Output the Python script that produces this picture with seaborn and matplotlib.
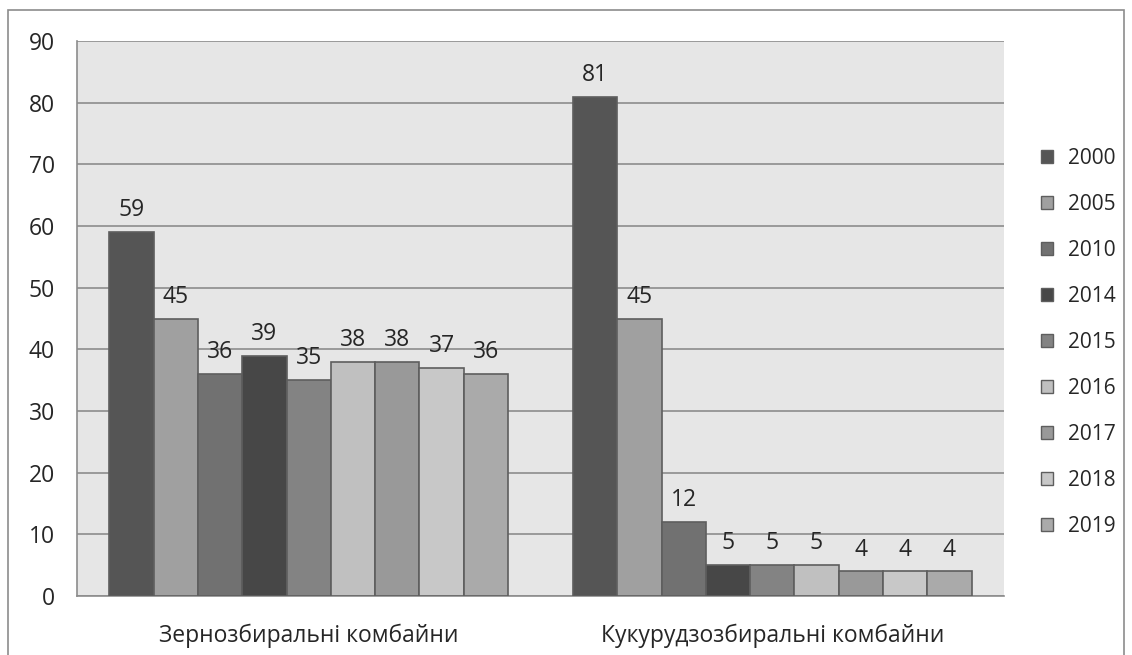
import pandas as pd
import matplotlib
matplotlib.use("Agg")
import matplotlib.pyplot as plt
import matplotlib.patches as mpatches
import seaborn as sns

categories = ["Зернозбиральні комбайни", "Кукурудзозбиральні комбайни"]
years = ["2000", "2005", "2010", "2014", "2015", "2016", "2017", "2018", "2019"]
grain = [59, 45, 36, 39, 35, 38, 38, 37, 36]
corn = [81, 45, 12, 5, 5, 5, 4, 4, 4]
colors = ["#555555", "#a0a0a0", "#717171", "#474747", "#838383",
          "#c0c0c0", "#999999", "#c8c8c8", "#aaaaaa"]

df = pd.DataFrame({
    "category": [categories[0]] * len(years) + [categories[1]] * len(years),
    "year": years * 2,
    "value": grain + corn,
})

sns.set_style("white")
plt.rcParams["font.family"] = ["Open Sans", "DejaVu Sans"]

fig = plt.figure(figsize=(11.32, 6.55), dpi=100)
ax = fig.add_axes([77 / 1132, 1 - 596 / 655, (1004 - 77) / 1132, (596 - 41) / 655])
ax.set_facecolor("#e6e6e6")

sns.barplot(data=df, x="category", y="value", hue="year", hue_order=years,
            palette=colors, width=0.86, gap=0, edgecolor="#5e5e5e", linewidth=1.2,
            legend=False, ax=ax, zorder=3)

# підписи значень над стовпцями
for c in ax.containers:
    ax.bar_label(c, fmt="%d", padding=7, fontsize=16.5)

ax.set_ylim(0, 90)
ax.set_xlim(-0.5, 1.5)
ax.set_yticks(range(0, 91, 10))
ax.yaxis.grid(True, color="#8c8c8c", linewidth=1.2, zorder=0)
ax.set_axisbelow(True)
ax.set_xlabel("")
ax.set_ylabel("")
ax.set_xticks([-0.5, 0.5, 1.5], minor=True)
ax.tick_params(axis="x", which="major", length=0, pad=20, labelsize=16.5)
ax.tick_params(axis="x", which="minor", length=6, color="#8c8c8c", direction="out")
ax.tick_params(axis="y", length=6, color="#8c8c8c", direction="out", labelsize=16.5, pad=10)
for s in ["top", "right"]:
    ax.spines[s].set_visible(False)
for s in ["left", "bottom"]:
    ax.spines[s].set_color("#8c8c8c")
    ax.spines[s].set_linewidth(1.2)

handles = [mpatches.Patch(facecolor=col, edgecolor="#5e5e5e", label=y) for col, y in zip(colors, years)]
fig.legend(handles=handles, loc="center left", bbox_to_anchor=(1022 / 1132, 1 - 342 / 655),
           frameon=False, fontsize=15, handlelength=0.6, handleheight=0.6,
           handletextpad=0.7, labelspacing=1.2)

fig.patches.append(mpatches.Rectangle((8 / 1132, -0.01), 1116 / 1132, 1 - 10 / 655 + 0.01,
                                      transform=fig.transFigure, fill=False,
                                      edgecolor="#8c8c8c", linewidth=1.2))

fig.savefig("out.png", dpi=100)
